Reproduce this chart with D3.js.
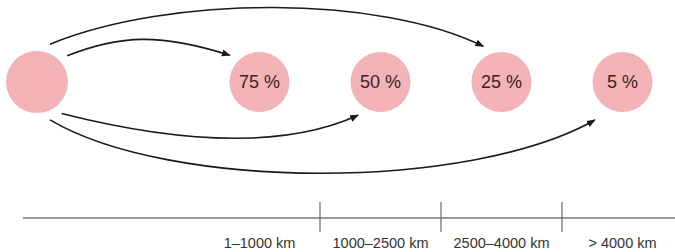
<!DOCTYPE html>
<html>
<head>
<meta charset="utf-8">
<script src="https://cdn.jsdelivr.net/npm/d3@7"></script>
<style>
  body { margin: 0; background: #fff; }
  svg { display: block; font-family: "Liberation Sans", Arial, sans-serif; }
</style>
</head>
<body>
<svg id="chart" width="675" height="252"></svg>
<script>
// distance bands and the share that reaches each band
const categories = ["1–1000 km", "1000–2500 km", "2500–4000 km", "> 4000 km"];
const shares = [75, 50, 25, 5];
const shareLabels = ["75 %", "50 %", "25 %", "5 %"];
// which band each arrow from the origin points to, in drawing order
const arrowTargets = ["2500–4000 km", "1–1000 km", "1000–2500 km", "> 4000 km"];

const svg = d3.select("#chart");
const width = +svg.attr("width");

const pink = "#f4b3b6";
const r = 30;
const rowY = 82;
const axisY = 218;

const x = d3.scaleBand().domain(categories).range([199, 683]).paddingInner(0);
const originX = 37;

svg.append("defs").append("marker")
    .attr("id", "head")
    .attr("viewBox", "0 0 10 10")
    .attr("refX", 9).attr("refY", 5)
    .attr("markerWidth", 5.5).attr("markerHeight", 5.5)
    .attr("orient", "auto")
  .append("path")
    .attr("d", "M0,1 L10,5 L0,9 Z")
    .attr("fill", "#1a1a1a");

// origin circle
svg.append("circle")
    .attr("cx", originX).attr("cy", rowY).attr("r", r + 1)
    .attr("fill", pink);

// target circles
const g = svg.selectAll(".share")
    .data(categories.map((c, i) => ({ cat: c, share: shares[i], label: shareLabels[i] })))
    .enter().append("g")
    .attr("class", "share")
    .attr("transform", d => `translate(${x(d.cat) + x.bandwidth() / 2},${rowY})`);

g.append("circle").attr("r", r).attr("fill", pink);
g.append("text")
    .attr("text-anchor", "middle")
    .attr("dy", "0.36em")
    .attr("font-size", 18)
    .attr("fill", "#3a2226")
    .text(d => d.label);

// arrow geometry: angle out of origin, angle into target, curve handles
const arrowShape = {
  "2500–4000 km": { a0: -71, a1: -117, d1: 40, c1: [170, -5], c2: [380, -5] },
  "1–1000 km":    { a0: -41, a1: -138, d1: 40, c1: [120, 35], c2: [160, 33] },
  "1000–2500 km": { a0: 52,  a1: 124,  d1: 40, c1: [190, 146], c2: [290, 146] },
  "> 4000 km":    { a0: 71,  a1: 126,  d1: 47, c1: [170, 191], c2: [470, 191] }
};
const rad = a => a * Math.PI / 180;

svg.selectAll(".arrow")
    .data(arrowTargets)
    .enter().append("path")
    .attr("class", "arrow")
    .attr("fill", "none")
    .attr("stroke", "#1a1a1a")
    .attr("stroke-width", 1.6)
    .attr("marker-end", "url(#head)")
    .attr("d", t => {
      const s = arrowShape[t];
      const cx = x(t) + x.bandwidth() / 2;
      const p0 = [originX + 40 * Math.cos(rad(s.a0)), rowY + 40 * Math.sin(rad(s.a0))];
      const p3 = [cx + s.d1 * Math.cos(rad(s.a1)), rowY + s.d1 * Math.sin(rad(s.a1))];
      const p = d3.path();
      p.moveTo(p0[0], p0[1]);
      p.bezierCurveTo(s.c1[0], s.c1[1], s.c2[0], s.c2[1], p3[0], p3[1]);
      return p.toString();
    });

// distance axis
svg.append("line")
    .attr("x1", 23).attr("x2", width)
    .attr("y1", axisY).attr("y2", axisY)
    .attr("stroke", "#7a7a7a").attr("stroke-width", 1.5);

svg.selectAll(".tick")
    .data(categories.slice(1))
    .enter().append("line")
    .attr("class", "tick")
    .attr("x1", d => x(d)).attr("x2", d => x(d))
    .attr("y1", axisY - 16).attr("y2", axisY + 14)
    .attr("stroke", "#6a6a6a").attr("stroke-width", 1.2);

svg.selectAll(".cat")
    .data(categories)
    .enter().append("text")
    .attr("class", "cat")
    .attr("x", d => x(d) + x.bandwidth() / 2)
    .attr("y", 248)
    .attr("text-anchor", "middle")
    .attr("font-size", 14.5)
    .attr("fill", "#333")
    .text(d => d);
</script>
</body>
</html>
